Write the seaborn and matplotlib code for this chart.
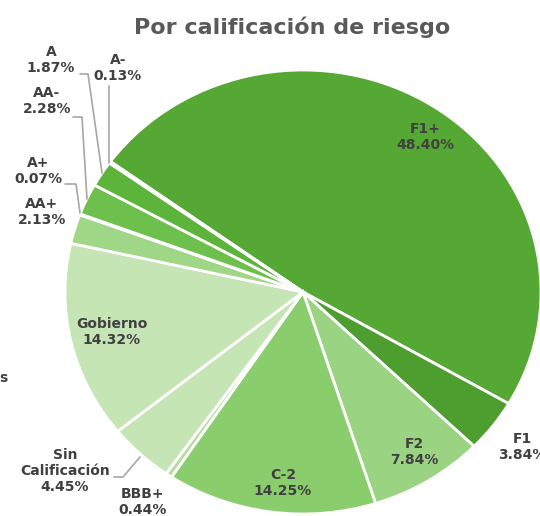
import matplotlib
matplotlib.use("Agg")
import matplotlib.pyplot as plt
import seaborn as sns

# Rating categories, shares (%) and slice colours, in drawing order
ratings = ["F1+", "F1", "F2", "C-2", "BBB+", "Sin\nCalificación",
           "Gobierno", "AA+", "A+", "AA-", "A", "A-"]
shares = [48.40, 3.84, 7.84, 14.25, 0.44, 4.45, 14.32, 2.13, 0.07, 2.28, 1.87, 0.13]
colors = ["#56A834", "#4E9D2F", "#9AD482", "#8ACD6C", "#B5DDA0", "#C6E5B5",
          "#C6E5B5", "#A0D786", "#7CC55D", "#6CC04B", "#5DB43A", "#56A834"]

sns.set_theme(style="white")
plt.rcParams["font.family"] = ["DejaVu Sans"]

W, H = 540, 516
CX, CY, RX, RY = 303, 292, 238, 222  # pie centre / radii in pixels


def P(px, py):
    # pixel position (from top-left) -> data coords of the pie axes
    return (px - CX) / RX, (CY - py) / RY


fig = plt.figure(figsize=(W / 100, H / 100), dpi=100)
ax = fig.add_axes([(CX - RX) / W, (H - CY - RY) / H, 2 * RX / W, 2 * RY / H])

ax.pie(shares, colors=colors, startangle=144, counterclock=False,
       wedgeprops=dict(edgecolor="white", linewidth=2.0))
ax.set_aspect("auto")
ax.set_xlim(-1, 1)
ax.set_ylim(-1, 1)
ax.axis("off")

# label positions (pixels)
label_pos = {
    "F1+": (425, 137), "F1": (522, 447), "F2": (414, 452), "C-2": (283, 483),
    "BBB+": (143, 502), "Sin\nCalificación": (65, 471), "Gobierno": (112, 332),
    "AA+": (42, 212), "A+": (38, 171), "AA-": (47, 101), "A": (51, 60),
    "A-": (118, 68),
}
for name, val in zip(ratings, shares):
    x, y = P(*label_pos[name])
    ax.text(x, y, f"{name}\n{val:.2f}%", ha="center", va="center",
            fontsize=10, fontweight="bold", color="#404040",
            linespacing=1.2, clip_on=False)

# leader lines (pixels)
leaders = [
    [(140, 457), (123, 477), (114, 477)],
    [(65, 184), (76, 184), (80, 213)],
    [(73, 117), (82, 117), (87, 199)],
    [(80, 74), (88, 74), (102, 173)],
    [(109, 86), (109, 163)],
]
for pts in leaders:
    xs, ys = zip(*[P(*p) for p in pts])
    ax.plot(xs, ys, color="#A6A6A6", lw=1.2, clip_on=False)

# fragment of a cropped label at the left edge
x, y = P(3, 378)
ax.text(x, y, "s", ha="center", va="center", fontsize=10,
        fontweight="bold", color="#404040", clip_on=False)

fig.text(292 / W, 1 - 27 / H, "Por calificación de riesgo", ha="center",
         va="center", fontsize=16, fontweight="bold", color="#595959")

fig.savefig("out.png", dpi=100)
